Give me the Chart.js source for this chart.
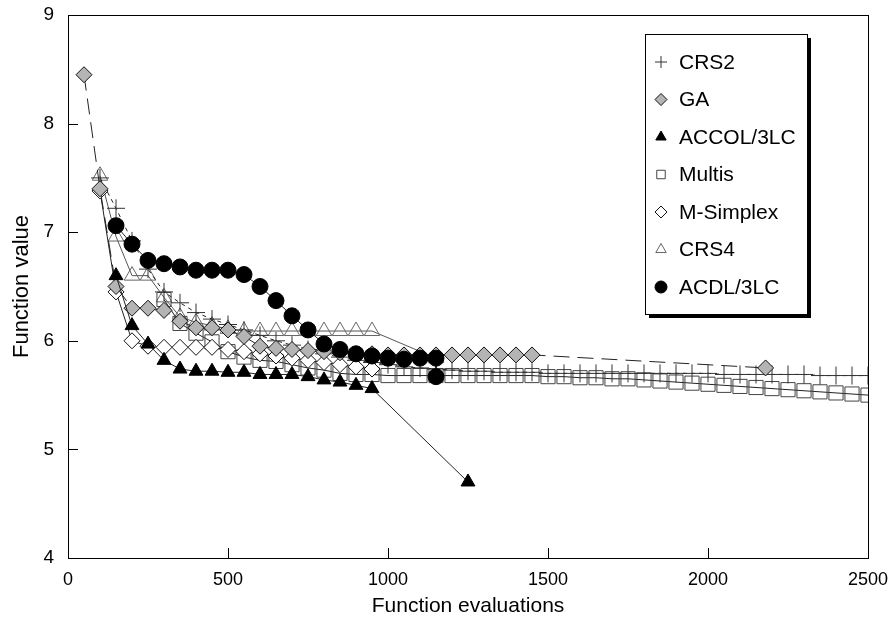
<!DOCTYPE html>
<html>
<head>
<meta charset="utf-8">
<script src="https://cdn.jsdelivr.net/npm/chart.js@4.4.1/dist/chart.umd.min.js"></script>
<style>
  html, body { margin: 0; padding: 0; background: #fff; }
</style>
</head>
<body>
<canvas id="myChart" width="888" height="622"></canvas>
<script>
const ctx = document.getElementById('myChart').getContext('2d');

// Convergence runs: number of function evaluations vs best function value
const crs2Evals = [100, 150, 200, 250, 300, 350, 400, 450, 500, 550, 600, 650, 700, 750, 800, 850, 900, 950,
  1000, 1050, 1100, 1150, 1200, 1250, 1300, 1350, 1400, 1450, 1500, 1550, 1600, 1650, 1700, 1750, 1800,
  1850, 1900, 1950, 2000, 2050, 2100, 2150, 2200, 2250, 2300, 2350, 2400, 2450, 2500];
const crs2Values = [7.50, 7.22, 6.92, 6.66, 6.45, 6.35, 6.26, 6.20, 6.15, 6.10, 6.05, 6.00, 5.96, 5.92, 5.88, 5.85, 5.82, 5.80,
  5.78, 5.76, 5.75, 5.74, 5.73, 5.72, 5.72, 5.71, 5.71, 5.71, 5.70, 5.70, 5.70, 5.70, 5.70, 5.70, 5.70,
  5.70, 5.70, 5.70, 5.70, 5.69, 5.69, 5.69, 5.69, 5.69, 5.69, 5.68, 5.68, 5.68, 5.68];

const gaEvals = [50, 100, 150, 200, 250, 300, 350, 400, 450, 500, 550, 600, 650, 700, 750, 800, 850, 900, 950,
  1000, 1050, 1100, 1150, 1200, 1250, 1300, 1350, 1400, 1450, 2180];
const gaValues = [8.45, 7.40, 6.50, 6.30, 6.30, 6.28, 6.18, 6.12, 6.12, 6.10, 6.04, 5.95, 5.93, 5.92, 5.91, 5.90, 5.89, 5.88, 5.88,
  5.87, 5.87, 5.87, 5.87, 5.87, 5.87, 5.87, 5.87, 5.87, 5.87, 5.75];

const accolEvals = [150, 200, 250, 300, 350, 400, 450, 500, 550, 600, 650, 700, 750, 800, 850, 900, 950, 1250];
const accolValues = [6.60, 6.14, 5.97, 5.82, 5.74, 5.72, 5.72, 5.71, 5.71, 5.69, 5.69, 5.69, 5.67, 5.64, 5.62, 5.59, 5.56, 4.70];

const multisEvals = [300, 350, 400, 450, 500, 550, 600, 650, 700, 750, 800, 850, 900, 950,
  1000, 1050, 1100, 1150, 1200, 1250, 1300, 1350, 1400, 1450, 1500, 1550, 1600, 1650, 1700, 1750, 1800,
  1850, 1900, 1950, 2000, 2050, 2100, 2150, 2200, 2250, 2300, 2350, 2400, 2450, 2500];
const multisValues = [6.38, 6.16, 6.07, 5.99, 5.90, 5.85, 5.82, 5.81, 5.78, 5.75, 5.73, 5.70, 5.69, 5.69,
  5.68, 5.68, 5.68, 5.68, 5.68, 5.68, 5.68, 5.68, 5.68, 5.68, 5.67, 5.67, 5.66, 5.66, 5.65, 5.65, 5.64,
  5.63, 5.62, 5.61, 5.60, 5.59, 5.58, 5.57, 5.56, 5.55, 5.54, 5.53, 5.52, 5.51, 5.50];

const simplexEvals = [100, 150, 200, 250, 300, 350, 400, 450, 500, 550, 600, 650, 700, 750, 800, 850, 900, 950];
const simplexValues = [7.38, 6.45, 6.00, 5.95, 5.94, 5.94, 5.94, 5.94, 5.92, 5.90, 5.88, 5.86, 5.84, 5.82, 5.80, 5.78, 5.76, 5.74];

const crs4Evals = [100, 150, 200, 250, 300, 350, 400, 450, 500, 550, 600, 650, 700, 750, 800, 850, 900, 950, 1150];
const crs4Values = [7.52, 6.96, 6.60, 6.60, 6.40, 6.22, 6.17, 6.14, 6.11, 6.09, 6.09, 6.09, 6.09, 6.09, 6.09, 6.09, 6.09, 6.09, 5.84];

const acdlEvals = [150, 200, 250, 300, 350, 400, 450, 500, 550, 600, 650, 700, 750, 800, 850, 900, 950,
  1000, 1050, 1100, 1150, 1150];
const acdlValues = [7.06, 6.89, 6.74, 6.71, 6.68, 6.65, 6.65, 6.65, 6.61, 6.50, 6.37, 6.23, 6.10, 5.97, 5.92, 5.88, 5.86,
  5.84, 5.83, 5.84, 5.84, 5.67];

const xTicks = [0, 500, 1000, 1500, 2000, 2500];
const yTicks = [4, 5, 6, 7, 8, 9];

function toPoints(xs, ys) {
  return xs.map((x, i) => ({ x: x, y: ys[i] }));
}

function series(label, xs, ys, style) {
  return Object.assign({
    label: label,
    data: toPoints(xs, ys),
    showLine: true,
    borderColor: '#222',
    borderWidth: 1,
    pointBorderWidth: 1,
    pointRadius: 8,
    tension: 0
  }, style);
}

const FONT = "'Liberation Sans', Arial, sans-serif";
Chart.defaults.font.family = FONT;
Chart.defaults.color = '#000';

const datasets = [
  series('ACDL/3LC', acdlEvals, acdlValues, {
    pointStyle: 'circle', pointRadius: 8, backgroundColor: '#000', pointBorderColor: '#000'
  }),
  series('ACCOL/3LC', accolEvals, accolValues, {
    pointStyle: 'triangle', pointRadius: 8, backgroundColor: '#000', pointBorderColor: '#000'
  }),
  series('GA', gaEvals, gaValues, {
    pointStyle: 'rectRot', pointRadius: 8, backgroundColor: '#b4b4b4', pointBorderColor: '#111',
    borderDash: [16, 8]
  }),
  series('M-Simplex', simplexEvals, simplexValues, {
    pointStyle: 'rectRot', pointRadius: 8, backgroundColor: '#fff', pointBorderColor: '#111'
  }),
  series('CRS2', crs2Evals, crs2Values, {
    pointStyle: 'cross', pointRadius: 9, backgroundColor: 'rgba(0,0,0,0)', pointBorderColor: '#333',
    borderDash: [4, 4]
  }),
  series('Multis', multisEvals, multisValues, {
    pointStyle: 'rect', pointRadius: 10, backgroundColor: 'rgba(0,0,0,0)', pointBorderColor: '#444'
  }),
  series('CRS4', crs4Evals, crs4Values, {
    pointStyle: 'triangle', pointRadius: 9, backgroundColor: 'rgba(0,0,0,0)', pointBorderColor: '#666',
    borderColor: '#555'
  })
];

// legend order as listed in the box
const legendOrder = ['CRS2', 'GA', 'ACCOL/3LC', 'Multis', 'M-Simplex', 'CRS4', 'ACDL/3LC'];

// frame, inward tick marks and the boxed legend with drop shadow
const framePlugin = {
  id: 'framePlugin',
  afterDraw(chart) {
    const c = chart.ctx;
    const area = chart.chartArea;
    const xs = chart.scales.x, ys = chart.scales.y;
    c.save();
    c.strokeStyle = '#000';
    c.lineWidth = 1;
    c.strokeRect(Math.round(area.left) + 0.5, Math.round(area.top) + 0.5,
      Math.round(area.right - area.left), Math.round(area.bottom - area.top));
    c.beginPath();
    yTicks.forEach(v => {
      const py = Math.round(ys.getPixelForValue(v)) + 0.5;
      c.moveTo(area.left, py);
      c.lineTo(area.left + 10, py);
    });
    xTicks.forEach(v => {
      const px = Math.round(xs.getPixelForValue(v)) + 0.5;
      c.moveTo(px, area.bottom);
      c.lineTo(px, area.bottom - 10);
    });
    c.stroke();

    // legend box
    const bx = 645, by = 34, bw = 162, bh = 280;
    c.fillStyle = '#000';
    c.fillRect(bx + 4, by + 4, bw, bh);
    c.fillStyle = '#fff';
    c.fillRect(bx, by, bw, bh);
    c.strokeRect(bx + 0.5, by + 0.5, bw, bh);

    c.font = '21px ' + FONT;
    c.textBaseline = 'middle';
    c.textAlign = 'left';
    legendOrder.forEach((name, i) => {
      const ds = chart.data.datasets.find(d => d.label === name);
      const ly = 62 + i * 37.5;
      c.fillStyle = ds.backgroundColor;
      c.strokeStyle = ds.pointBorderColor;
      c.lineWidth = 1;
      Chart.helpers.drawPoint(c, {
        pointStyle: ds.pointStyle, radius: Math.min(ds.pointRadius, 8) * 0.75, rotation: 0, borderWidth: 1
      }, 661, ly);
      c.fillStyle = '#000';
      c.fillText(name, 679, ly + 1);
    });
    c.restore();
  }
};

const myChart = new Chart(ctx, {
  type: 'scatter',
  data: { datasets: datasets },
  options: {
    responsive: false,
    animation: false,
    layout: { padding: { left: 0, right: 20, top: 15, bottom: 0 } },
    plugins: {
      legend: { display: false },
      tooltip: { enabled: false }
    },
    scales: {
      x: {
        type: 'linear',
        min: 0,
        max: 2500,
        afterFit: s => { s.height = 64; s.paddingLeft = 0; s.paddingRight = 0; },
        afterBuildTicks: s => { s.ticks = xTicks.map(v => ({ value: v })); },
        grid: { display: false, drawTicks: false },
        border: { display: false },
        ticks: { padding: 11, maxRotation: 0, font: { size: 18 }, callback: v => String(v) },
        title: {
          display: true,
          text: 'Function evaluations',
          font: { size: 21 },
          padding: { top: 0, bottom: 3 }
        }
      },
      y: {
        type: 'linear',
        min: 4,
        max: 9,
        afterFit: s => { s.width = 68; s.paddingTop = 0; s.paddingBottom = 0; },
        afterBuildTicks: s => { s.ticks = yTicks.map(v => ({ value: v })); },
        grid: { display: false, drawTicks: false },
        border: { display: false },
        ticks: { padding: 14, font: { size: 19 }, callback: v => String(v) },
        title: {
          display: true,
          text: 'Function value',
          font: { size: 22 },
          padding: { top: 9, bottom: 0 }
        }
      }
    }
  },
  plugins: [framePlugin]
});
</script>
</body>
</html>
